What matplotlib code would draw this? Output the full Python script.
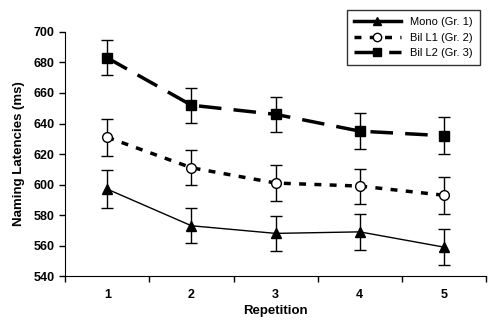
import matplotlib.pyplot as plt
from matplotlib.lines import Line2D
import numpy as np

plt.rcParams["font.family"] = ["Liberation Sans", "DejaVu Sans"]

repetition = [1, 2, 3, 4, 5]
mono = [597, 573, 568, 569, 559]
mono_err = [12.5, 11.5, 11.5, 12.0, 12.0]
bil_l1 = [631, 611, 601, 599, 593]
bil_l1_err = [12.0, 11.5, 12.0, 11.5, 12.0]
bil_l2 = [683, 652, 646, 635, 632]
bil_l2_err = [11.5, 11.5, 11.5, 12.0, 12.0]

fig = plt.figure(figsize=(4.9, 3.26), dpi=100)
ax = fig.add_axes([0.133, 0.153, 0.859, 0.749])

err_kw = dict(ecolor="black", elinewidth=1.0, capsize=4, capthick=1.0)

ax.errorbar(repetition, mono, yerr=mono_err, color="black", linewidth=1.0,
            marker="^", markersize=7, markerfacecolor="black", **err_kw)
ax.errorbar(repetition, bil_l1, yerr=bil_l1_err, color="black", linewidth=2.5,
            linestyle=(0, (2, 2.4)), marker="o", markersize=7,
            markerfacecolor="white", markeredgewidth=1.0, **err_kw)
ax.errorbar(repetition, bil_l2, yerr=bil_l2_err, color="black", linewidth=2.5,
            linestyle=(0, (6.5, 3.5)), marker="s", markersize=6.5,
            markerfacecolor="black", **err_kw)

ax.set_xlim(0.5, 5.5)
ax.set_ylim(540, 700)
ax.set_yticks(np.arange(540, 701, 20))
ax.set_xticks([0.5, 1.5, 2.5, 3.5, 4.5, 5.5])
ax.set_xticklabels([])
ax.set_xticks(repetition, minor=True)
ax.set_xticklabels([str(r) for r in repetition], minor=True)
ax.tick_params(axis="x", which="minor", length=0, pad=9)
ax.tick_params(axis="both", which="major", length=4, width=1, direction="out")
for lab in ax.get_xticklabels(minor=True) + ax.get_yticklabels():
    lab.set_fontsize(9)
    lab.set_fontweight("bold")

ax.spines["top"].set_visible(False)
ax.spines["right"].set_visible(False)

ax.set_xlabel("Repetition", fontsize=9.5, fontweight="bold", labelpad=3)
ax.set_ylabel("Naming Latencies (ms)", fontsize=9.5, fontweight="bold", labelpad=6)

# legend handles without the error bars
handles = [
    Line2D([], [], color="black", linewidth=2.5, marker="^", markersize=6),
    Line2D([], [], color="black", linewidth=2.5, linestyle=(0, (2, 2.4)),
           marker="o", markersize=6, markerfacecolor="white", markeredgewidth=1.0),
    Line2D([], [], color="black", linewidth=2.5, linestyle=(0, (6.5, 3.5)),
           marker="s", markersize=5.5),
]
labels = ["Mono (Gr. 1)", "Bil L1 (Gr. 2)", "Bil L2 (Gr. 3)"]
leg = fig.legend(handles, labels, loc="upper right", bbox_to_anchor=(0.99, 0.985),
                 fontsize=8, frameon=True, fancybox=False, edgecolor="black",
                 handlelength=4.3, borderpad=0.6, labelspacing=0.5)
leg.get_frame().set_linewidth(1.0)

plt.savefig("out.png", dpi=100)
plt.close()
